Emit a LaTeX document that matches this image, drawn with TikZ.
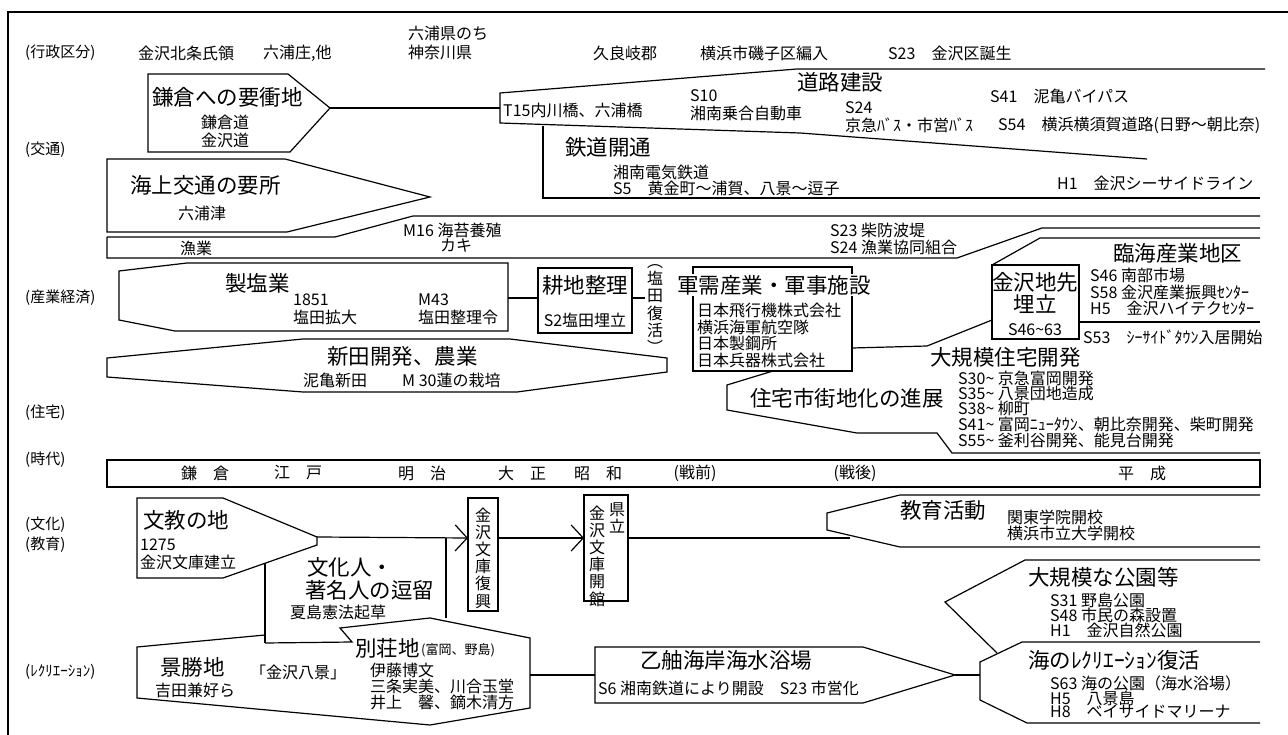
\documentclass[tikz,border=0pt]{standalone}
\usepackage{fontspec}
\setmainfont{Noto Sans CJK JP}
\usetikzlibrary{arrows.meta}
\newcommand{\tl}{\char"7E\relax}
\tikzset{
  big/.style={inner sep=0pt, anchor=west, font=\fontsize{21.5}{23}\selectfont},
  sm/.style={inner sep=0pt, anchor=west, font=\fontsize{16}{17}\selectfont},
  tiny/.style={inner sep=0pt, anchor=west, font=\fontsize{13}{15}\selectfont},
  lab/.style={inner sep=0pt, anchor=west, font=\fontsize{15}{17}\selectfont},
  era/.style={inner sep=0pt, font=\fontsize{16}{17}\selectfont},
  vert/.style={inner sep=0pt, align=center, font=\fontsize{16}{17.2}\selectfont},
  ln/.style={line width=1.2pt, line join=miter},
  arr/.style={line width=1.2pt, -{Straight Barb[length=12pt,width=26pt,line width=1.2pt]}},
}
\begin{document}
\begin{tikzpicture}[x=1pt,y=-1pt]
\useasboundingbox (0,0) rectangle (1288,735);
% frame
\draw[ln] (8,735) -- (8,12) -- (1288,12);
% row labels
\node[lab] (r1) at (25,53) {(行政区分)};
\node[lab] (r2) at (25,150) {(交通)};
\node[lab] (r3) at (25,298) {(産業経済)};
\node[lab] (r4) at (25,413) {(住宅)};
\node[lab] (r5) at (25,460) {(時代)};
\node[lab] (r6) at (25,525) {(文化)};
\node[lab] (r7) at (25,545) {(教育)};
\node[lab] (r8) at (25,672) {(ﾚｸﾘｴｰｼｮﾝ)};
% top row
\node[sm] (g1) at (138,53) {金沢北条氏領};
\node[sm] (g2) at (263,53) {六浦庄,他};
\node[sm] (g3) at (408,33) {六浦県のち};
\node[sm] (g4) at (408,52) {神奈川県};
\node[sm] (g5) at (593,53) {久良岐郡};
\node[sm] (g6) at (700,53) {横浜市磯子区編入};
\node[sm] (g7) at (888,53) {S23　金沢区誕生};
% ---- traffic
\coordinate (kp) at (330,108);
\coordinate (rl) at (500,108);
\draw[ln] (148,74) -- (288,74) -- (kp) -- (290,152) -- (148,152) -- cycle;
\draw[ln] (kp) -- (rl);
\draw[ln] (1265,69) -- (797,69) -- (500,93) -- (500,123) -- (800,133) -- (1147,159);
\draw[ln] (543,126) -- (543,198) -- (1260,198);
\node[big] (k1) at (152,97) {鎌倉への要衝地};
\node[sm,anchor=center] (k2) at (225,122) {鎌倉道};
\node[sm,anchor=center] (k3) at (225,140) {金沢道};
\draw[ln] (107,159) -- (285,159) -- (430,197) -- (287,232) -- (107,232) -- cycle;
\node[big] (k4) at (130,185) {海上交通の要所};
\node[sm] (k5) at (178,213) {六浦津};
\node[big] (d1) at (797,82) {道路建設};
\node[sm] (d2) at (503,110) {T15内川橋、六浦橋};
\node[sm] (d3) at (690,96) {S10};
\node[sm] (d4) at (690,113) {湘南乗合自動車};
\node[sm] (d5) at (845,108) {S24};
\node[sm] (d6) at (845,125) {京急ﾊﾞｽ・市営ﾊﾞｽ};
\node[sm] (d7) at (990,96) {S41　泥亀バイパス};
\node[sm] (d8) at (998,125) {S54　横浜横須賀道路(日野～朝比奈)};
\node[big] (t1) at (565,147) {鉄道開通};
\node[sm] (t2) at (613,172) {湘南電気鉄道};
\node[sm] (t3) at (613,188) {S5　黄金町～浦賀、八景～逗子};
\node[sm] (t4) at (1057,183) {H1　金沢シーサイドライン};
% ---- fishing
\draw[ln] (107,237) -- (335,237) -- (413,216) -- (1260,216);
\draw[ln] (107,237) -- (107,258) -- (957,258) -- (1042,228) -- (1260,228);
\node[sm] (f1) at (180,248) {漁業};
\node[sm] (f2) at (403,230) {M16 海苔養殖};
\node[sm] (f3) at (440,246) {カキ};
\node[sm] (f4) at (830,230) {S23 柴防波堤};
\node[sm] (f5) at (830,247) {S24 漁業協同組合};
% ---- industry
\draw[ln] (119,271) -- (187,263) -- (508,263) -- (508,331) -- (175,331) -- (119,320) -- cycle;
\coordinate (sa) at (508,298);
\coordinate (sb) at (538,298);
\draw[ln] (sa) -- (sb);
\draw[ln] (538,268) rectangle (632,333);
\coordinate (kc) at (632,298);
\coordinate (kd) at (645,298);
\draw[ln] (kc) -- (kd);
\node[big] (s1) at (225,283) {製塩業};
\node[sm] (s2) at (293,300) {1851};
\node[sm] (s3) at (293,317) {塩田拡大};
\node[sm] (s4) at (418,300) {M43};
\node[sm] (s5) at (418,317) {塩田整理令};
\node[big,anchor=center] (s6) at (585,285) {耕地整理};
\node[sm,anchor=center] (s7) at (585,320) {S2塩田埋立};
\node[vert] (s8) at (655,309) {︵\\塩\\田\\復\\活\\︶};
\draw[ln] (107,358) -- (303,339) -- (510,339) -- (667,358) -- (667,372) -- (517,392) -- (303,392) -- (107,377) -- cycle;
\node[big] (n1) at (327,356) {新田開発、農業};
\node[sm] (n2) at (303,380) {泥亀新田};
\node[sm] (n3) at (402,380) {M 30蓮の栽培};
% military box
\draw[ln] (693,267) rectangle (852,371);
\node[big,fill=white,inner sep=1pt] (m1) at (676,285) {軍需産業・軍事施設};
\node[sm] (m2) at (697,310) {日本飛行機株式会社};
\node[sm] (m3) at (697,327) {横浜海軍航空隊};
\node[sm] (m4) at (697,343) {日本製鋼所};
\node[sm] (m5) at (697,360) {日本兵器株式会社};
\coordinate (ma) at (852,348);
\coordinate (mb) at (992,320);
\draw[ln] (ma) -- (927,346) -- (mb);
% reclamation
\draw[ln] (992,265) rectangle (1079,339);
\draw[ln] (992,265) -- (1040,238) -- (1260,238);
\draw[ln] (1079,322) -- (1260,322);
\node[big,anchor=center] (w1) at (1035,282) {金沢地先};
\node[big,anchor=center] (w2) at (1035,304) {埋立};
\node[sm,anchor=center] (w3) at (1035,330) {S46\tl63};
\node[big] (w4) at (1113,253) {臨海産業地区};
\node[sm] (w5) at (1090,275) {S46 南部市場};
\node[sm] (w6) at (1090,292) {S58 金沢産業振興ｾﾝﾀｰ};
\node[sm] (w7) at (1090,308) {H5　金沢ハイテクｾﾝﾀｰ};
\node[sm] (w8) at (1083,337) {S53　ｼｰｻｲﾄﾞﾀｳﾝ入居開始};
% housing
\draw[ln] (773,371) -- (727,385) -- (727,410) -- (857,433) -- (937,433) -- (952,453) -- (1260,453);
\node[big] (h1) at (930,357) {大規模住宅開発};
\node[sm] (h2) at (958,378) {S30\tl{} 京急富岡開発};
\node[sm] (h3) at (958,393) {S35\tl{} 八景団地造成};
\node[sm] (h4) at (958,408) {S38\tl{} 柳町};
\node[sm] (h5) at (958,424) {S41\tl{} 富岡ﾆｭｰﾀｳﾝ、朝比奈開発、柴町開発};
\node[sm] (h6) at (958,440) {S55\tl{} 釜利谷開発、能見台開発};
\node[big] (h7) at (750,398) {住宅市街地化の進展};
% era bar
\draw[ln] (107,460) rectangle (1260,487);
\node[era] (e1) at (205,473) {鎌　倉};
\node[era] (e2) at (298,473) {江　戸};
\node[era] (e3) at (422,473) {明　治};
\node[era] (e4) at (522,473) {大　正};
\node[era] (e5) at (598,473) {昭　和};
\node[era] (e6) at (695,473) {(戦前)};
\node[era] (e7) at (855,473) {(戦後)};
\node[era] (e8) at (1142,473) {平　成};
% culture
\coordinate (bp) at (317,537);
\draw[ln] (137,498) -- (223,498) -- (bp) -- (317,545) -- (223,578) -- (137,578) -- cycle;
\node[big] (c1) at (143,520) {文教の地};
\node[sm] (c2) at (140,545) {1275};
\node[sm] (c3) at (140,562) {金沢文庫建立};
\draw[ln] (468,498) rectangle (498,611);
\coordinate (b1w) at (468,538);
\coordinate (b1e) at (498,538);
\draw[arr] (bp) -- (b1w);
\node[vert] (c4) at (483,558) {金\\沢\\文\\庫\\復\\興};
\draw[ln] (584,495) rectangle (628,601);
\coordinate (b2w) at (584,538);
\coordinate (b2e) at (628,538);
\draw[arr] (b1e) -- (b2w);
\node[vert] (c5) at (617,518) {県\\立};
\node[vert] (c6) at (597,556) {金\\沢\\文\\庫\\開\\館};
\coordinate (ed) at (850,538);
\draw[ln] (b2e) -- (ed);
\draw[ln] (1260,495) -- (900,495) -- (827,513) -- (827,530) -- (900,547) -- (1260,547);
\node[big] (c7) at (900,510) {教育活動};
\node[sm] (c8) at (1007,517) {関東学院開校};
\node[sm] (c9) at (1007,533) {横浜市立大学開校};
% cultural persons box
\draw[ln] (265,563) -- (265,643);
\draw[ln] (446,538) -- (446,618);
\node[big] (p1) at (307,567) {文化人・};
\node[big] (p2) at (305,590) {著名人の逗留};
\node[sm] (p3) at (290,612) {夏島憲法起草};
% recreation
\draw[ln] (265,635) -- (137,647) -- (137,698) -- (430,725) -- (530,708) -- (530,638) -- (430,618) -- (340,628) -- (352,642) -- (265,643);
\node[big] (q1) at (160,667) {景勝地};
\node[sm] (q2) at (155,690) {吉田兼好ら};
\node[sm] (q3) at (250,672) {「金沢八景」};
\node[big] (q4) at (355,648) {別荘地};
\node[tiny] (q5) at (421,650) {(富岡、野島)};
\node[sm] (q6) at (370,670) {伊藤博文};
\node[sm] (q7) at (370,686) {三条実美、川合玉堂};
\node[sm] (q8) at (370,702) {井上　馨、鏑木清方};
\coordinate (va) at (530,675);
\coordinate (vb) at (595,675);
\draw[ln] (va) -- (vb);
\coordinate (op) at (955,675);
\draw[ln] (vb) -- (595,647) -- (863,647) -- (op) -- (863,703) -- (595,703) -- cycle;
\node[big] (o1) at (640,660) {乙舳海岸海水浴場};
\node[sm] (o2) at (598,688) {S6 湘南鉄道により開設　S23 市営化};
\coordinate (uc) at (980,675);
\draw[ln] (op) -- (uc);
\draw[ln] (1260,560) -- (1025,560) -- (945,602) -- (997,653);
\draw[ln] (1260,642) -- (1022,642) -- (980,662) -- (980,700) -- (1027,723) -- (1260,723);
\node[big] (u1) at (1028,577) {大規模な公園等};
\node[sm] (u2) at (1050,600) {S31 野島公園};
\node[sm] (u3) at (1050,615) {S48 市民の森設置};
\node[sm] (u4) at (1050,630) {H1　金沢自然公園};
\node[big] (u5) at (1028,660) {海のﾚｸﾘｴｰｼｮﾝ復活};
\node[sm] (u6) at (1050,683) {S63 海の公園（海水浴場）};
\node[sm] (u7) at (1050,698) {H5　八景島};
\node[sm] (u8) at (1050,712) {H8　ベイサイドマリーナ};
\end{tikzpicture}
\end{document}
